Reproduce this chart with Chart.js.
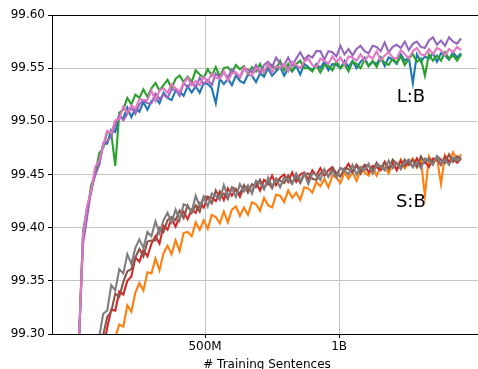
<!DOCTYPE html>
<html><head><meta charset="utf-8">
<script src="https://cdn.jsdelivr.net/npm/chart.js@4/dist/chart.umd.min.js"></script>
<style>html,body{margin:0;padding:0;overflow:hidden;background:#fff}#wrap{width:490px;height:380px}</style>
</head><body><div id="wrap"><canvas id="c" width="490" height="380"></canvas></div>
<script>
// x: number of training sentences, in millions
const sentencesM = [30,45,60,75,90,105,120,135,150,165,180,195,210,225,240,255,270,285,300,315,330,345,360,375,390,405,420,435,450,465,480,495,510,525,540,555,570,585,600,615,630,645,660,675,690,705,720,735,750,765,780,795,810,825,840,855,870,885,900,915,930,945,960,975,990,1005,1020,1035,1050,1065,1080,1095,1110,1125,1140,1155,1170,1185,1200,1215,1230,1245,1260,1275,1290,1305,1320,1335,1350,1365,1380,1395,1410,1425,1440,1455];

// L:B group
const seriesC0 = [99.297,99.396,99.419,99.433,99.454,99.459,99.479,99.479,99.492,99.490,
99.504,99.503,99.513,99.504,99.512,99.509,99.518,99.511,99.519,99.522,
99.517,99.527,99.522,99.520,99.529,99.528,99.524,99.533,99.527,99.533,
99.527,99.536,99.535,99.531,99.517,99.540,99.535,99.540,99.534,99.543,
99.538,99.536,99.544,99.543,99.537,99.545,99.542,99.550,99.543,99.547,
99.551,99.543,99.550,99.547,99.552,99.544,99.554,99.551,99.548,99.554,
99.550,99.556,99.548,99.554,99.553,99.550,99.557,99.551,99.557,99.550,
99.556,99.560,99.552,99.556,99.554,99.560,99.552,99.560,99.558,99.554,
99.563,99.557,99.560,99.536,99.563,99.556,99.561,99.559,99.564,99.556,
99.564,99.562,99.558,99.565,99.560,99.564];
const seriesC2 = [99.296,99.396,99.414,99.440,99.450,99.470,99.475,99.490,99.489,99.458,
99.508,99.511,99.522,99.516,99.525,99.522,99.530,99.523,99.531,99.536,
99.529,99.534,99.539,99.531,99.540,99.543,99.537,99.542,99.537,99.548,
99.544,99.541,99.549,99.543,99.551,99.542,99.550,99.551,99.546,99.553,
99.549,99.552,99.544,99.551,99.547,99.554,99.545,99.554,99.553,99.549,
99.557,99.548,99.554,99.547,99.554,99.557,99.550,99.550,99.547,99.553,
99.546,99.553,99.552,99.548,99.556,99.550,99.554,99.547,99.556,99.554,
99.550,99.558,99.552,99.557,99.551,99.560,99.555,99.553,99.559,99.555,
99.561,99.553,99.559,99.563,99.556,99.559,99.543,99.563,99.557,99.562,
99.557,99.565,99.559,99.562,99.557,99.563];
const seriesC4 = [99.296,99.385,99.410,99.435,99.449,99.459,99.479,99.481,99.486,99.497,
99.506,99.501,99.507,99.513,99.507,99.516,99.520,99.517,99.517,99.526,
99.521,99.525,99.522,99.530,99.530,99.524,99.536,99.532,99.537,99.532,
99.541,99.535,99.539,99.534,99.545,99.541,99.546,99.541,99.549,99.545,
99.541,99.549,99.549,99.546,99.553,99.545,99.553,99.556,99.551,99.560,
99.554,99.553,99.560,99.552,99.559,99.565,99.558,99.562,99.560,99.566,
99.566,99.558,99.566,99.565,99.561,99.571,99.563,99.568,99.562,99.568,
99.571,99.566,99.564,99.571,99.570,99.566,99.574,99.565,99.570,99.572,
99.569,99.575,99.567,99.573,99.575,99.570,99.569,99.576,99.579,99.572,
99.576,99.571,99.579,99.575,99.573,99.578];
const seriesC6 = [99.297,99.394,99.420,99.435,99.457,99.463,99.478,99.491,99.489,99.501,
99.502,99.514,99.508,99.515,99.512,99.521,99.520,99.520,99.529,99.519,
99.529,99.531,99.527,99.535,99.531,99.528,99.536,99.541,99.534,99.538,
99.534,99.542,99.537,99.545,99.541,99.540,99.547,99.538,99.545,99.546,
99.542,99.551,99.545,99.543,99.550,99.549,99.546,99.554,99.546,99.552,
99.550,99.554,99.547,99.556,99.553,99.550,99.556,99.559,99.553,99.551,
99.559,99.557,99.554,99.561,99.556,99.560,99.553,99.561,99.560,99.557,
99.563,99.557,99.562,99.559,99.566,99.557,99.562,99.565,99.560,99.559,
99.567,99.563,99.559,99.566,99.569,99.563,99.562,99.568,99.563,99.569,
99.567,99.562,99.568,99.565,99.570,99.567];

// S:B group
const seriesC1 = [null,null,null,null,null,null,null,null,99.285,99.297,
99.309,99.307,99.327,99.321,99.339,99.348,99.341,99.358,99.357,99.371,
99.360,99.376,99.383,99.375,99.388,99.378,99.395,99.396,99.392,99.405,
99.398,99.407,99.399,99.412,99.410,99.404,99.415,99.405,99.417,99.420,
99.411,99.419,99.412,99.424,99.422,99.416,99.428,99.421,99.419,99.431,
99.430,99.424,99.435,99.428,99.433,99.426,99.438,99.437,99.433,99.443,
99.439,99.446,99.438,99.449,99.447,99.442,99.452,99.446,99.452,99.444,
99.454,99.452,99.449,99.457,99.449,99.458,99.457,99.451,99.461,99.455,
99.464,99.456,99.461,99.465,99.457,99.464,99.430,99.467,99.460,99.466,
99.441,99.468,99.461,99.471,99.464,99.469];
const seriesC3 = [null,null,null,null,null,null,99.285,99.306,99.323,99.322,
99.340,99.337,99.350,99.354,99.372,99.368,99.379,99.373,99.385,99.392,
99.385,99.402,99.398,99.409,99.401,99.410,99.415,99.408,99.417,99.414,
99.423,99.419,99.429,99.428,99.425,99.434,99.426,99.437,99.430,99.436,
99.429,99.439,99.437,99.434,99.443,99.435,99.445,99.441,99.449,99.440,
99.447,99.450,99.443,99.452,99.443,99.450,99.452,99.445,99.454,99.449,
99.456,99.449,99.454,99.457,99.450,99.456,99.454,99.460,99.453,99.459,
99.455,99.459,99.452,99.458,99.457,99.454,99.462,99.456,99.461,99.454,
99.463,99.458,99.462,99.457,99.465,99.459,99.462,99.457,99.465,99.464,
99.459,99.467,99.462,99.465,99.461,99.465];
const seriesC5 = [null,null,null,null,null,99.283,99.299,99.316,99.321,99.338,
99.335,99.349,99.359,99.361,99.372,99.380,99.373,99.387,99.388,99.388,
99.400,99.396,99.407,99.410,99.407,99.416,99.409,99.421,99.414,99.421,
99.415,99.429,99.429,99.423,99.435,99.428,99.432,99.427,99.438,99.436,
99.432,99.440,99.433,99.441,99.438,99.445,99.437,99.443,99.437,99.446,
99.444,99.442,99.449,99.442,99.448,99.442,99.450,99.451,99.446,99.445,
99.451,99.454,99.448,99.456,99.451,99.448,99.456,99.455,99.452,99.459,
99.451,99.459,99.458,99.454,99.461,99.456,99.461,99.455,99.464,99.460,
99.457,99.464,99.459,99.464,99.457,99.467,99.461,99.465,99.461,99.467,
99.464,99.461,99.469,99.462,99.467,99.465];
const seriesC7 = [null,null,null,null,99.280,99.297,99.319,99.322,99.346,99.341,
99.361,99.357,99.375,99.366,99.381,99.389,99.381,99.396,99.392,99.406,
99.395,99.407,99.414,99.405,99.417,99.407,99.422,99.420,99.415,99.430,
99.420,99.429,99.420,99.432,99.430,99.426,99.440,99.429,99.437,99.429,
99.441,99.434,99.440,99.432,99.444,99.442,99.436,99.447,99.439,99.446,
99.438,99.447,99.445,99.441,99.451,99.444,99.451,99.441,99.451,99.450,
99.445,99.455,99.448,99.453,99.447,99.456,99.454,99.450,99.459,99.450,
99.457,99.454,99.460,99.451,99.459,99.458,99.454,99.463,99.456,99.461,
99.455,99.461,99.464,99.457,99.461,99.456,99.465,99.463,99.459,99.467,
99.460,99.464,99.459,99.466,99.463,99.466];

const xTickValues = [500, 1000];
const xTickLabels = ['500M', '1B'];
const yTickValues = [99.30, 99.35, 99.40, 99.45, 99.50, 99.55, 99.60];
const groupLabels = ['L:B', 'S:B'];

// styling / layout (not data)
const palette = ['#1f77b4','#ff7f0e','#2ca02c','#d62728','#9467bd','#8c564b','#e377c2','#7f7f7f'];
const allSeries = [seriesC0, seriesC1, seriesC2, seriesC3, seriesC4, seriesC5, seriesC6, seriesC7];
const labelAnchors = [{x:1215, y:99.5185}, {x:1212, y:99.4194}];

Chart.defaults.font.family = '"DejaVu Sans", sans-serif';
Chart.defaults.font.size = 12;
Chart.defaults.color = '#000';

const datasets = allSeries.map((vals, k) => ({
  label: 'C' + k,
  data: sentencesM.map((x, i) => ({x: x, y: vals[i]})),
  borderColor: palette[k],
  backgroundColor: palette[k],
  borderWidth: 2.1,
  pointRadius: 0,
  tension: 0,
  fill: false,
  order: allSeries.length - k
}));

const extras = {
  id: 'extras',
  afterDatasetsDraw(chart) {
    const {ctx, chartArea: a, scales: {x, y}} = chart;
    ctx.save();
    ctx.strokeStyle = '#000';
    ctx.lineWidth = 1;
    ctx.beginPath();
    ctx.moveTo(a.left, Math.round(a.top) + 0.5);
    ctx.lineTo(a.right, Math.round(a.top) + 0.5);
    ctx.stroke();
    ctx.fillStyle = '#000';
    ctx.font = '18px "DejaVu Sans"';
    ctx.textAlign = 'left';
    ctx.textBaseline = 'alphabetic';
    groupLabels.forEach((t, i) => {
      ctx.fillText(t, x.getPixelForValue(labelAnchors[i].x), y.getPixelForValue(labelAnchors[i].y));
    });
    ctx.restore();
  }
};

new Chart(document.getElementById('c'), {
  type: 'line',
  data: { datasets },
  options: {
    responsive: false,
    animation: false,
    events: [],
    layout: { padding: { top: 15, right: 8, left: 0, bottom: 0 } },
    plugins: { legend: { display: false }, tooltip: { enabled: false } },
    scales: {
      x: {
        type: 'linear',
        min: -71, max: 1533,
        afterBuildTicks(s) { s.ticks = xTickValues.map(v => ({value: v})); },
        afterFit(s) { s.height = 46; },
        ticks: { callback: (v, i) => xTickLabels[i], color: '#000', padding: 2, maxRotation: 0, autoSkip: false },
        grid: { color: '#c4c4c4', lineWidth: 1, tickColor: '#000', tickLength: 4, drawTicks: true },
        border: { display: true, color: '#000', width: 1 },
        title: { display: true, text: '# Training Sentences', color: '#000', font: { size: 12 }, padding: { top: 4, bottom: 8 } }
      },
      y: {
        min: 99.30, max: 99.60,
        afterBuildTicks(s) { s.ticks = yTickValues.map(v => ({value: v})); },
        afterFit(s) { s.width = 52; },
        ticks: { callback: v => Number(v).toFixed(2), color: '#000', padding: 3 },
        grid: { color: '#c4c4c4', lineWidth: 1, tickColor: '#000', tickLength: 4, drawTicks: true },
        border: { display: true, color: '#000', width: 1 }
      }
    }
  },
  plugins: [extras]
});
</script>
</body></html>
